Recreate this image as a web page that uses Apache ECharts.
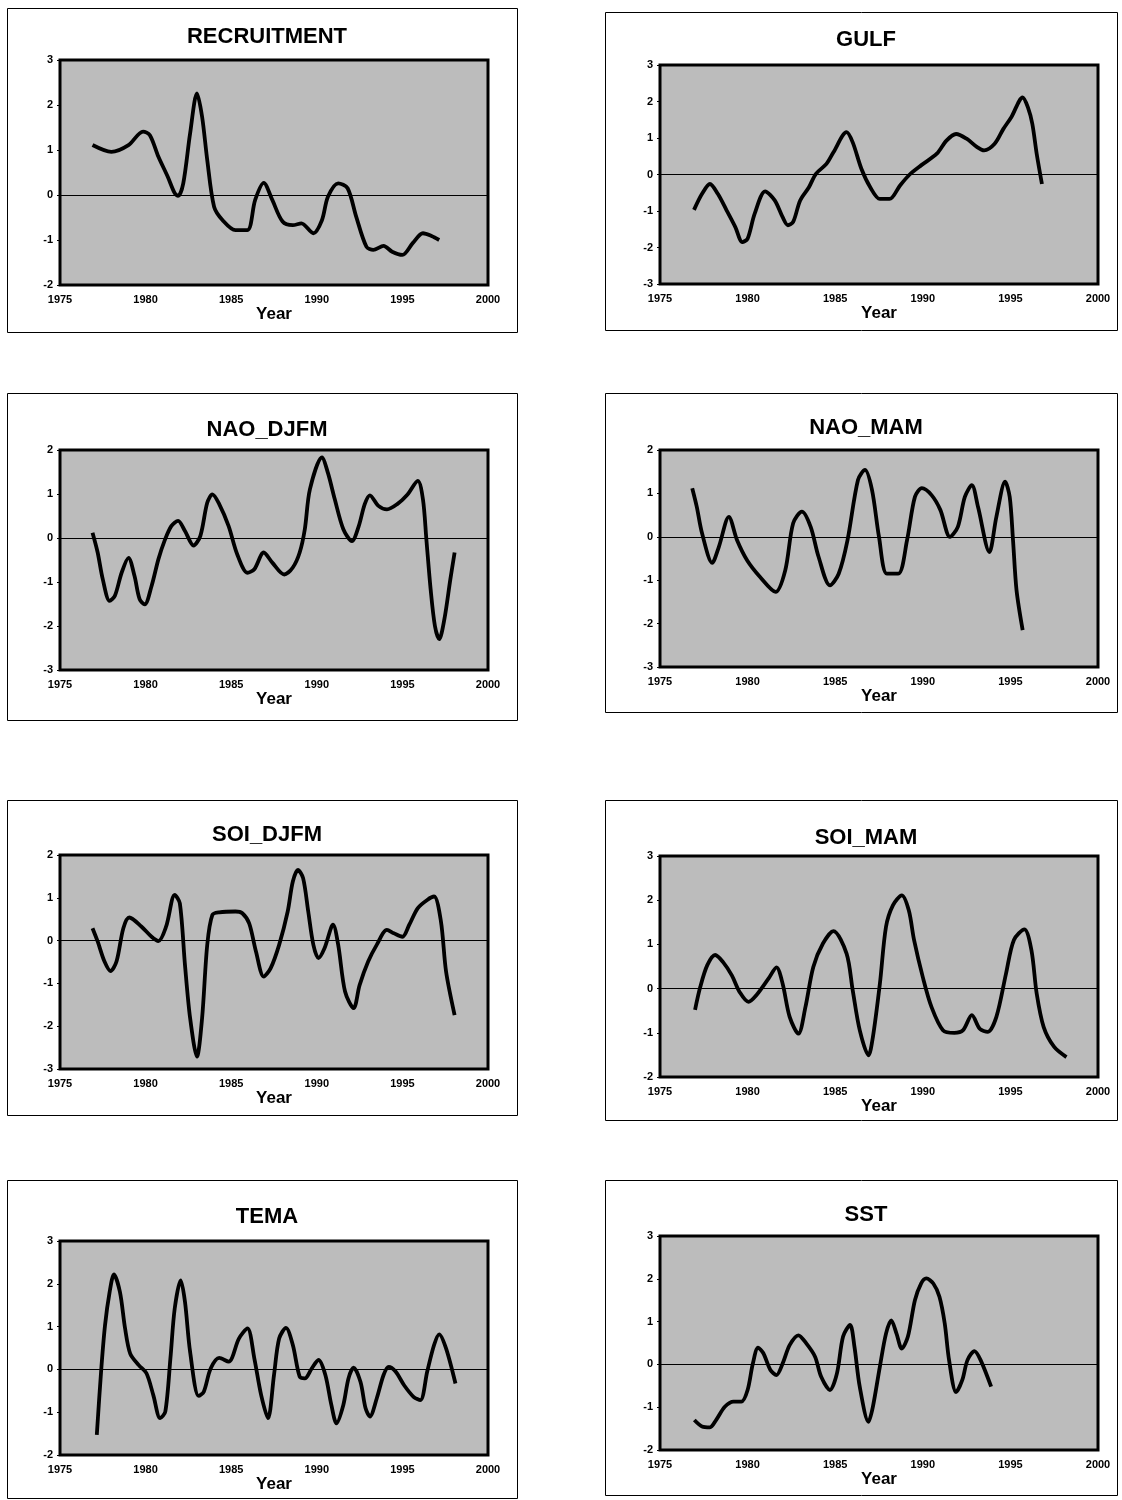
<!DOCTYPE html>
<html>
<head>
<meta charset="utf-8">
<script src="https://cdn.jsdelivr.net/npm/echarts@6/dist/echarts.min.js"></script>
<style>
html,body{margin:0;padding:0;background:#fff;}
#chart{width:1122px;height:1500px;}
</style>
</head>
<body>
<div id="chart"></div>
<script>
// ---------------- DATA ----------------
const panelTitles = ['RECRUITMENT','GULF','NAO_DJFM','NAO_MAM','SOI_DJFM','SOI_MAM','TEMA','SST'];
const xTickYears = [1975,1980,1985,1990,1995,2000];
const yRanges = [[-2,3],[-3,3],[-3,2],[-3,2],[-3,2],[-2,3],[-2,3],[-2,3]];

const recruitYears = [1976.9,1978.0,1979.0,1979.85,1980.25,1980.75,1981.3,1981.7,1981.9,1982.2,1982.6,1983.0,1983.3,1983.6,1984.0,1984.5,1985.25,1985.95,1986.4,1986.9,1987.4,1988.0,1988.6,1989.1,1989.8,1990.3,1990.65,1991.25,1991.8,1992.3,1992.9,1993.3,1993.9,1994.4,1995.0,1995.6,1996.2,1996.7,1997.15];
const recruitValues = [1.11,0.96,1.11,1.41,1.33,0.85,0.4,0.04,-0.02,0.26,1.37,2.26,1.74,0.78,-0.26,-0.56,-0.78,-0.78,-0.11,0.27,-0.11,-0.59,-0.67,-0.63,-0.85,-0.56,-0.04,0.26,0.15,-0.48,-1.15,-1.22,-1.13,-1.26,-1.33,-1.07,-0.85,-0.91,-1.0];

const gulfYears = [1976.94,1977.4,1977.85,1978.3,1978.8,1979.3,1979.7,1980.0,1980.4,1981.0,1981.55,1982.0,1982.3,1982.6,1983.0,1983.5,1983.9,1984.5,1984.9,1985.65,1986.0,1986.5,1987.0,1987.55,1988.1,1988.7,1989.25,1989.9,1990.8,1991.35,1991.9,1992.5,1993.1,1993.5,1994.1,1994.6,1995.05,1995.7,1996.0,1996.25,1996.5,1996.8];
const gulfValues = [-0.97,-0.53,-0.26,-0.53,-0.98,-1.44,-1.85,-1.76,-1.08,-0.46,-0.71,-1.17,-1.39,-1.30,-0.71,-0.35,0.02,0.29,0.61,1.16,0.88,0.15,-0.35,-0.67,-0.67,-0.3,0.0,0.25,0.57,0.93,1.11,0.98,0.75,0.66,0.84,1.25,1.57,2.11,1.84,1.39,0.57,-0.26];

const naoDjfmYears = [1976.9,1977.2,1977.5,1977.9,1978.2,1978.6,1979.0,1979.35,1979.65,1979.95,1980.35,1980.75,1981.1,1981.5,1981.9,1982.3,1982.8,1983.2,1983.6,1983.9,1984.3,1984.85,1985.35,1985.95,1986.35,1986.9,1987.4,1988.1,1988.6,1989.0,1989.3,1989.6,1990.3,1990.65,1991.05,1991.55,1992.05,1992.45,1992.8,1993.1,1993.6,1994.1,1994.7,1995.3,1995.9,1996.2,1996.4,1996.65,1996.9,1997.15,1997.45,1997.8,1998.05];
const naoDjfmValues = [0.12,-0.33,-0.94,-1.43,-1.32,-0.79,-0.45,-0.86,-1.39,-1.51,-1.09,-0.48,-0.07,0.27,0.39,0.16,-0.17,0.05,0.80,0.99,0.77,0.27,-0.37,-0.79,-0.71,-0.33,-0.56,-0.83,-0.67,-0.33,0.2,1.11,1.83,1.48,0.88,0.2,-0.07,0.27,0.77,0.97,0.73,0.65,0.77,0.99,1.30,0.88,-0.03,-1.17,-2.0,-2.3,-1.85,-0.94,-0.33];

const naoMamYears = [1976.84,1977.1,1977.4,1977.98,1978.36,1978.93,1979.4,1979.97,1980.7,1981.6,1982.15,1982.6,1983.1,1983.6,1984.05,1984.7,1985.2,1985.7,1986.3,1986.7,1987.1,1987.5,1987.95,1988.6,1989.1,1989.55,1989.95,1990.5,1991.0,1991.55,1992.0,1992.4,1992.8,1993.15,1993.8,1994.2,1994.7,1994.96,1995.15,1995.35,1995.7];
const naoMamValues = [1.12,0.69,0.08,-0.6,-0.23,0.46,-0.08,-0.54,-0.92,-1.27,-0.77,0.31,0.58,0.23,-0.46,-1.12,-0.85,-0.08,1.31,1.54,1.08,0.0,-0.85,-0.85,-0.08,0.92,1.12,0.96,0.62,0.0,0.23,0.92,1.19,0.69,-0.35,0.46,1.27,0.92,-0.08,-1.23,-2.15];

const soiDjfmYears = [1976.9,1977.2,1977.6,1977.95,1978.3,1978.7,1979.05,1979.75,1980.35,1980.75,1981.2,1981.7,1982.0,1982.3,1982.6,1983.0,1983.3,1983.6,1983.9,1984.3,1985.25,1985.65,1986.05,1986.45,1986.9,1987.3,1987.8,1988.3,1988.6,1988.9,1989.2,1989.5,1989.8,1990.1,1990.45,1990.95,1991.25,1991.65,1992.15,1992.5,1993.0,1993.5,1994.1,1994.5,1995.0,1995.4,1995.9,1996.45,1996.85,1997.25,1997.55,1998.05];
const soiDjfmValues = [0.29,-0.02,-0.49,-0.71,-0.49,0.29,0.54,0.33,0.09,-0.01,0.33,1.07,0.87,-0.57,-1.81,-2.71,-1.81,-0.1,0.6,0.66,0.68,0.64,0.4,-0.26,-0.84,-0.65,-0.1,0.68,1.38,1.65,1.46,0.68,-0.1,-0.41,-0.18,0.37,-0.1,-1.19,-1.58,-1.04,-0.49,-0.1,0.25,0.17,0.09,0.37,0.76,0.95,1.03,0.45,-0.72,-1.74];

const soiMamYears = [1977.0,1977.3,1977.7,1978.15,1978.6,1979.1,1979.55,1980.05,1980.5,1981.2,1981.65,1982.0,1982.4,1982.9,1983.3,1983.75,1984.3,1984.9,1985.65,1986.0,1986.4,1986.9,1987.15,1987.55,1987.9,1988.3,1988.8,1989.2,1989.5,1990.0,1990.5,1991.15,1991.8,1992.3,1992.8,1993.25,1993.7,1994.2,1994.75,1995.2,1995.8,1996.2,1996.5,1996.9,1997.5,1998.2];
const soiMamValues = [-0.48,0.04,0.53,0.76,0.6,0.3,-0.08,-0.3,-0.15,0.23,0.48,0.11,-0.64,-1.02,-0.42,0.49,1.02,1.3,0.79,-0.04,-0.94,-1.51,-1.1,0.11,1.4,1.89,2.11,1.77,1.1,0.26,-0.42,-0.94,-1.0,-0.94,-0.6,-0.91,-0.98,-0.64,0.34,1.1,1.34,0.87,-0.11,-0.87,-1.32,-1.55];

const temaYears = [1977.15,1977.4,1977.63,1977.9,1978.15,1978.5,1978.8,1979.1,1979.6,1980.05,1980.45,1980.85,1981.15,1981.45,1981.7,1982.05,1982.3,1982.6,1983.1,1983.4,1983.8,1984.3,1984.85,1985.45,1985.95,1986.35,1986.75,1987.15,1987.5,1987.8,1988.2,1988.6,1989.0,1989.3,1989.7,1990.1,1990.5,1990.85,1991.15,1991.55,1991.85,1992.15,1992.55,1992.85,1993.1,1993.5,1993.9,1994.2,1994.6,1995.1,1995.65,1996.05,1996.45,1996.85,1997.15,1997.55,1998.1];
const temaValues = [-1.53,-0.05,1.03,1.81,2.22,1.81,0.96,0.37,0.1,-0.09,-0.6,-1.14,-0.99,0.26,1.42,2.08,1.58,0.41,-0.62,-0.52,0.02,0.27,0.18,0.72,0.96,0.26,-0.6,-1.14,-0.13,0.72,0.97,0.57,-0.17,-0.21,0.02,0.22,-0.13,-0.83,-1.26,-0.83,-0.21,0.04,-0.29,-0.91,-1.1,-0.68,-0.13,0.06,-0.05,-0.37,-0.64,-0.72,-0.05,0.57,0.82,0.49,-0.33];

const sstYears = [1976.96,1977.4,1977.85,1978.2,1978.7,1979.2,1979.65,1980.0,1980.3,1980.6,1980.9,1981.3,1981.65,1982.0,1982.4,1982.9,1983.35,1983.85,1984.2,1984.7,1985.1,1985.45,1985.85,1986.1,1986.4,1986.9,1987.15,1987.55,1987.9,1988.2,1988.5,1988.8,1989.15,1989.55,1989.9,1990.2,1990.6,1990.95,1991.25,1991.5,1991.9,1992.25,1992.55,1992.95,1993.3,1993.9];
const sstValues = [-1.3,-1.45,-1.47,-1.3,-0.99,-0.87,-0.87,-0.6,0.02,0.39,0.26,-0.13,-0.25,0.02,0.45,0.68,0.49,0.18,-0.29,-0.6,-0.21,0.65,0.92,0.41,-0.52,-1.34,-0.99,-0.05,0.72,1.03,0.72,0.37,0.65,1.5,1.89,2.01,1.89,1.58,0.96,0.1,-0.65,-0.37,0.1,0.31,0.1,-0.52];

const panelYears = [recruitYears,gulfYears,naoDjfmYears,naoMamYears,soiDjfmYears,soiMamYears,temaYears,sstYears];
const panelValues = [recruitValues,gulfValues,naoDjfmValues,naoMamValues,soiDjfmValues,soiMamValues,temaValues,sstValues];

// ---------------- LAYOUT (pixels) ----------------
const layout = [
  {box:[7,8,510,324],    plot:[60,60,428,225],   titleY:32},
  {box:[605,12,512,318], plot:[660,65,438,219],  titleY:35},
  {box:[7,393,510,327],  plot:[60,450,428,220],  titleY:425},
  {box:[605,393,512,319],plot:[660,450,438,217], titleY:423},
  {box:[7,800,510,315],  plot:[60,855,428,214],  titleY:830},
  {box:[605,800,512,320],plot:[660,856,438,221], titleY:833},
  {box:[7,1180,510,318], plot:[60,1241,428,214], titleY:1212},
  {box:[605,1180,512,315],plot:[660,1236,438,214],titleY:1210}
];

const FONT = '"Liberation Sans", Arial, sans-serif';
const chart = echarts.init(document.getElementById('chart'), null, {renderer:'canvas'});

const titles = [], grids = [], xAxes = [], yAxes = [], series = [], graphics = [];
layout.forEach((L, i) => {
  const [bx,by,bw,bh] = L.box;
  const [px,py,pw,ph] = L.plot;
  graphics.push({type:'rect', shape:{x:bx+0.5,y:by+0.5,width:bw,height:bh},
    style:{fill:'transparent', stroke:'#000', lineWidth:1}, z:0, silent:true});
  titles.push({text:panelTitles[i], left:bx+bw/2, top:L.titleY-11, textAlign:'center',
    textStyle:{fontFamily:FONT, fontWeight:'bold', fontSize:22, color:'#000'}});
  grids.push({left:px, top:py, width:pw, height:ph, show:true, backgroundColor:'#bcbcbc',
    borderColor:'#000', borderWidth:3, containLabel:false});
  xAxes.push({type:'value', gridIndex:i, min:xTickYears[0], max:xTickYears[xTickYears.length-1],
    interval:5, axisLine:{show:false}, axisTick:{show:false}, splitLine:{show:false},
    axisLabel:{fontFamily:FONT, fontWeight:'bold', fontSize:11, color:'#000', margin:9,
      formatter:(v) => String(v)},
    name:'Year', nameLocation:'middle', nameGap:18,
    nameTextStyle:{fontFamily:FONT, fontWeight:'bold', fontSize:17, color:'#000', verticalAlign:'top'}});
  yAxes.push({type:'value', gridIndex:i, min:yRanges[i][0], max:yRanges[i][1], interval:1,
    axisLine:{show:false}, axisTick:{show:true, length:3, lineStyle:{color:'#000'}},
    splitLine:{show:false},
    axisLabel:{fontFamily:FONT, fontWeight:'bold', fontSize:11, color:'#000', margin:7}});
  const data = panelYears[i].map((yr, k) => [yr, panelValues[i][k]]);
  series.push({type:'line', xAxisIndex:i, yAxisIndex:i, data:data, showSymbol:false,
    smooth:0.3, lineStyle:{color:'#000', width:3.8}, z:3, silent:true,
    markLine:{silent:true, symbol:'none', label:{show:false},
      lineStyle:{color:'#000', width:1, type:'solid'}, data:[{yAxis:0}], z:2, animation:false}});
});

chart.setOption({
  animation:false,
  backgroundColor:'#fff',
  title:titles, grid:grids, xAxis:xAxes, yAxis:yAxes, series:series, graphic:graphics
});
</script>
</body>
</html>
